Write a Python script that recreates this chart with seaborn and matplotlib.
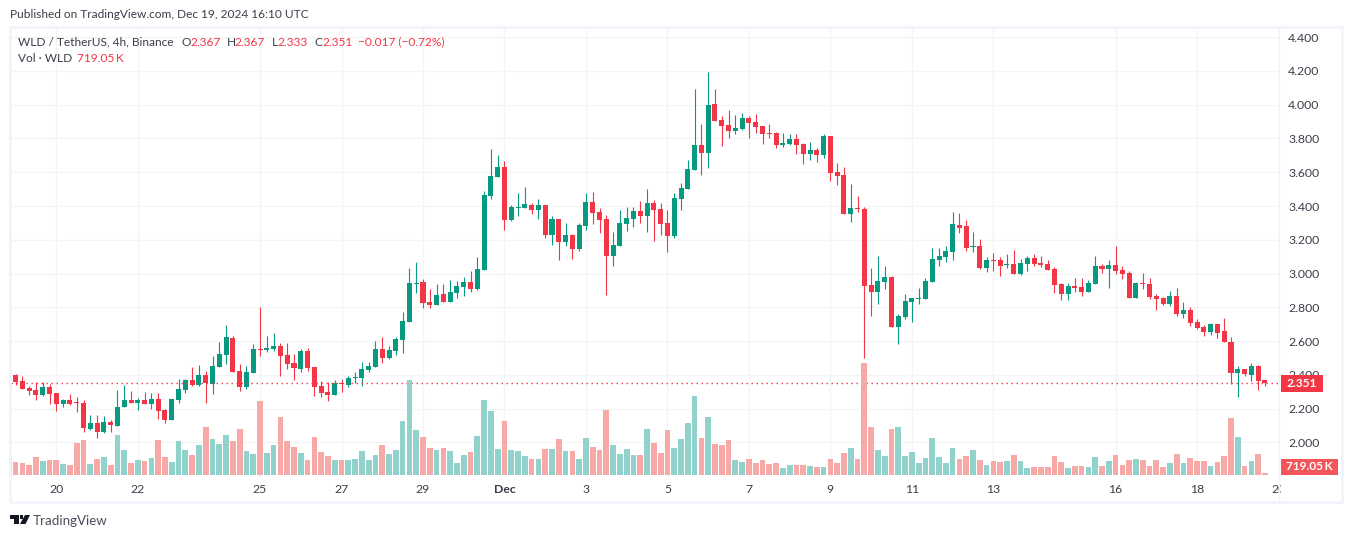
import numpy as np
import pandas as pd
import matplotlib.pyplot as plt
import seaborn as sns
from matplotlib.lines import Line2D
from matplotlib.patches import Polygon, Rectangle
from matplotlib.transforms import Bbox, TransformedBbox

# 4h candles WLD/USDT, first one is cut by the left edge
first_bar = '2024-11-18 20:00'

opens = [2.310,2.398,2.363,2.321,2.309,2.280,2.327,2.292,2.227,2.250,
 2.240,2.233,2.079,2.114,2.061,2.120,2.097,2.209,2.250,2.233,
 2.250,2.227,2.256,2.191,2.132,2.250,2.310,2.368,2.339,2.398,
 2.345,2.445,2.516,2.617,2.422,2.327,2.410,2.552,2.546,2.552,
 2.569,2.516,2.469,2.433,2.540,2.445,2.333,2.298,2.280,2.352,
 2.339,2.382,2.380,2.427,2.445,2.552,2.498,2.540,2.605,2.713,
 2.941,2.950,2.831,2.813,2.879,2.831,2.885,2.920,2.950,2.908,
 3.021,3.459,3.572,3.631,3.317,3.390,3.388,3.406,3.376,3.406,
 3.228,3.323,3.187,3.228,3.145,3.281,3.424,3.364,3.323,3.104,
 3.163,3.293,3.323,3.370,3.341,3.418,3.382,3.299,3.222,3.441,
 3.501,3.613,3.761,3.714,4.004,3.909,3.880,3.844,3.856,3.921,
 3.897,3.874,3.832,3.832,3.761,3.767,3.797,3.767,3.708,3.732,
 3.702,3.814,3.601,3.582,3.351,3.387,3.381,2.931,2.889,2.949,
 2.978,2.682,2.741,2.830,2.850,2.848,2.949,3.079,3.097,3.126,
 3.286,3.280,3.158,3.162,3.032,3.079,3.079,3.051,3.055,2.996,
 3.055,3.091,3.061,3.055,3.026,2.937,2.878,2.925,2.919,2.889,
 2.937,3.043,3.026,3.049,3.020,3.002,2.854,2.943,2.937,2.866,
 2.854,2.818,2.866,2.759,2.783,2.712,2.682,2.653,2.700,2.659,
 2.593,2.410,2.433,2.398,2.451,2.367]

highs = [2.398,2.404,2.392,2.335,2.357,2.357,2.349,2.292,2.256,2.286,
 2.268,2.250,2.161,2.161,2.155,2.132,2.310,2.339,2.303,2.262,
 2.298,2.292,2.292,2.197,2.256,2.374,2.374,2.445,2.457,2.422,
 2.510,2.593,2.694,2.629,2.463,2.451,2.581,2.800,2.629,2.646,
 2.587,2.587,2.522,2.552,2.558,2.445,2.363,2.357,2.368,2.374,
 2.392,2.416,2.475,2.475,2.599,2.623,2.569,2.623,2.770,3.033,
 3.069,2.968,2.908,2.938,2.938,2.962,2.956,2.979,3.015,3.098,
 3.489,3.737,3.702,3.666,3.406,3.477,3.512,3.418,3.441,3.406,
 3.341,3.323,3.299,3.234,3.299,3.477,3.483,3.388,3.347,3.246,
 3.376,3.394,3.394,3.430,3.501,3.435,3.418,3.376,3.477,3.536,
 3.672,4.093,3.886,4.194,4.093,3.933,3.969,3.939,3.951,3.933,
 3.945,3.874,3.886,3.838,3.832,3.826,3.826,3.773,3.779,3.743,
 3.826,3.814,3.655,3.630,3.529,3.458,3.393,3.032,3.103,3.043,
 2.984,2.759,2.878,2.854,2.913,2.972,3.150,3.150,3.162,3.363,
 3.357,3.316,3.245,3.203,3.097,3.120,3.097,3.114,3.138,3.085,
 3.103,3.114,3.103,3.079,3.038,2.943,2.943,2.972,2.972,2.961,
 3.103,3.055,3.079,3.162,3.043,3.014,2.949,3.002,2.972,2.878,
 2.860,2.895,2.913,2.830,2.801,2.730,2.694,2.706,2.700,2.735,
 2.623,2.451,2.433,2.469,2.457,2.367]

lows = [2.310,2.339,2.315,2.280,2.250,2.274,2.227,2.185,2.209,2.221,
 2.180,2.061,2.073,2.026,2.055,2.061,2.097,2.209,2.233,2.191,
 2.227,2.197,2.138,2.114,2.132,2.233,2.292,2.333,2.333,2.233,
 2.286,2.445,2.463,2.416,2.303,2.315,2.410,2.510,2.534,2.540,
 2.392,2.433,2.368,2.416,2.422,2.274,2.268,2.244,2.280,2.298,
 2.327,2.351,2.333,2.416,2.445,2.469,2.492,2.516,2.530,2.713,
 2.885,2.796,2.796,2.813,2.831,2.831,2.855,2.867,2.891,2.902,
 3.021,3.441,3.572,3.258,3.311,3.341,3.388,3.353,3.323,3.210,
 3.169,3.080,3.163,3.086,3.133,3.258,3.293,3.240,2.873,3.045,
 3.163,3.252,3.276,3.299,3.246,3.193,3.228,3.128,3.210,3.376,
 3.501,3.613,3.584,3.625,3.903,3.755,3.803,3.826,3.850,3.803,
 3.832,3.767,3.803,3.743,3.749,3.761,3.708,3.649,3.672,3.661,
 3.684,3.548,3.524,3.351,3.304,3.363,2.499,2.747,2.818,2.907,
 2.682,2.582,2.730,2.712,2.818,2.848,2.949,3.043,3.067,3.079,
 3.239,3.132,3.126,3.026,3.008,3.014,2.984,3.032,2.996,2.990,
 3.014,3.043,3.038,3.020,2.884,2.842,2.842,2.889,2.866,2.889,
 2.937,3.002,2.913,2.996,2.966,2.854,2.854,2.907,2.848,2.783,
 2.812,2.807,2.747,2.735,2.688,2.670,2.629,2.635,2.617,2.593,
 2.345,2.268,2.392,2.362,2.309,2.333]

closes = [2.398,2.359,2.315,2.303,2.280,2.327,2.286,2.227,2.250,2.227,
 2.236,2.085,2.114,2.061,2.120,2.103,2.209,2.250,2.233,2.250,
 2.227,2.256,2.185,2.132,2.256,2.315,2.368,2.339,2.398,2.351,
 2.451,2.522,2.623,2.416,2.327,2.416,2.552,2.546,2.558,2.569,
 2.510,2.463,2.440,2.540,2.440,2.327,2.292,2.280,2.351,2.349,
 2.380,2.386,2.433,2.451,2.552,2.498,2.546,2.611,2.717,2.944,
 2.946,2.825,2.813,2.873,2.831,2.890,2.926,2.950,2.908,3.027,
 3.465,3.578,3.631,3.317,3.394,3.394,3.412,3.376,3.406,3.228,
 3.323,3.187,3.228,3.145,3.287,3.424,3.358,3.317,3.104,3.169,
 3.299,3.329,3.370,3.341,3.418,3.376,3.293,3.222,3.447,3.507,
 3.619,3.761,3.714,3.998,3.903,3.874,3.844,3.862,3.921,3.892,
 3.868,3.826,3.828,3.761,3.773,3.797,3.761,3.708,3.732,3.702,
 3.814,3.595,3.578,3.351,3.387,3.383,2.925,2.889,2.955,2.978,
 2.682,2.747,2.836,2.854,2.854,2.955,3.085,3.103,3.132,3.292,
 3.268,3.150,3.162,3.032,3.079,3.075,3.043,3.055,2.996,3.061,
 3.091,3.055,3.049,3.020,2.931,2.878,2.925,2.913,2.889,2.943,
 3.043,3.026,3.049,3.014,2.996,2.854,2.943,2.939,2.860,2.848,
 2.818,2.866,2.759,2.783,2.706,2.676,2.653,2.700,2.647,2.593,
 2.410,2.433,2.404,2.451,2.362,2.351]

# volume in millions of WLD
volumes = [6.12,4.68,4.32,3.60,6.48,5.04,5.40,5.40,3.96,3.60,
 11.52,12.60,3.96,5.76,6.48,3.60,14.40,9.00,4.32,5.40,
 5.04,6.12,12.60,6.48,4.68,12.24,9.00,7.20,10.80,17.28,
 12.96,11.16,14.40,12.24,16.56,8.64,7.56,26.64,7.92,10.80,
 20.88,12.24,10.08,7.92,5.40,13.68,8.28,6.84,5.40,5.40,
 5.40,5.76,8.64,5.40,7.20,10.80,7.56,9.00,19.44,34.20,
 16.20,13.68,9.72,9.00,9.72,8.64,4.32,7.20,8.28,14.04,
 27.00,23.04,9.36,19.44,9.00,8.64,6.84,5.76,5.76,9.36,
 9.36,12.96,8.64,8.64,5.76,13.32,10.08,9.00,23.40,10.80,
 7.56,9.36,7.20,7.20,16.56,11.52,7.92,16.20,9.72,12.96,
 18.72,28.44,13.32,20.88,11.16,10.80,12.60,5.40,4.68,5.76,
 4.32,5.40,3.96,4.32,2.52,3.60,3.60,3.60,3.24,2.88,
 2.88,5.76,4.32,7.92,9.72,5.76,40.32,17.28,9.00,6.84,
 16.56,17.28,6.84,8.28,4.32,6.12,13.32,6.48,4.32,9.72,
 5.76,6.84,9.00,5.40,3.60,5.04,4.68,5.04,7.20,5.04,
 2.52,2.88,2.88,2.88,6.84,4.68,2.52,3.24,3.24,2.88,
 6.48,3.24,5.04,7.20,3.60,5.40,5.76,5.40,3.24,5.40,
 2.88,4.32,7.56,4.32,6.12,5.04,5.04,3.24,4.68,6.84,
 20.52,13.68,3.24,5.04,7.56,0.72]

tick_dates = ['2024-11-20','2024-11-22','2024-11-25','2024-11-27','2024-11-29','2024-12-01',
              '2024-12-03','2024-12-05','2024-12-07','2024-12-09','2024-12-11','2024-12-13',
              '2024-12-16','2024-12-18','2024-12-20']
tick_labels = ['20','22','25','27','29','Dec','3','5','7','9','11','13','16','18','20']
price_ticks = [2.0,2.2,2.4,2.6,2.8,3.0,3.2,3.4,3.6,3.8,4.0,4.2,4.4]
last_price = 2.351

UP = '#089981'
DOWN = '#F23645'
VOL_UP = '#92D2CC'
VOL_DOWN = '#F7A9A7'
GRID = '#F3F4F6'
FRAME = '#F0F3FA'
TEXT = '#3A3E4A'

W, H = 1352, 538
FS = 8.6

sns.set_theme(style='white')
plt.rcParams['font.family'] = ['Lato', 'DejaVu Sans']

def fx(x):
    return x / W

def fy(y):
    return 1 - y / H

df = pd.DataFrame({'open': opens, 'high': highs, 'low': lows, 'close': closes, 'volume': volumes})
df['pos'] = np.arange(len(df))
df['direction'] = np.where(df['close'] >= df['open'], 'up', 'down')
start = pd.Timestamp(first_bar)
tick_pos = [(pd.Timestamp(d) - start) / pd.Timedelta(hours=4) for d in tick_dates]

fig = plt.figure(figsize=(W / 100, H / 100), dpi=100, facecolor='white')
left, right, top, bottom = 10.5, 1279, 28, 477
ax = fig.add_axes([fx(left), fy(bottom), fx(right - left), (bottom - top) / H])
ax.set_facecolor('white')

# Gitter und Kerzen
ax.set_axisbelow(True)
ax.grid(True, color=GRID, linewidth=0.9)
colors = df['direction'].map({'up': UP, 'down': DOWN})
wicks = ax.vlines(df['pos'], df['low'], df['high'], colors=colors, linewidth=0.8, zorder=2)
wicks.set_snap(True)
ax.bar(df['pos'], (df['close'] - df['open']).abs().clip(lower=0.004), bottom=df[['open', 'close']].min(axis=1),
       width=0.74, color=colors, linewidth=0, zorder=3)
ax.axhline(last_price, color=DOWN, linewidth=1, linestyle=(0, (1, 2.6)), zorder=4)

# Volumen als Overlay unten
ax_vol = ax.twinx()
ax_vol.patch.set_visible(False)
sns.barplot(data=df, x='pos', y='volume', hue='direction', palette={'up': VOL_UP, 'down': VOL_DOWN},
            native_scale=True, dodge=False, width=0.84, saturation=1, legend=False,
            errorbar=None, linewidth=0, ax=ax_vol)
ax_vol.set_ylim(-2 * 0.36, (475 - top) * 0.36)
ax_vol.set_xlabel('')
ax_vol.set_ylabel('')
ax_vol.yaxis.set_visible(False)
ax_vol.xaxis.set_visible(False)
for side in ax_vol.spines:
    ax_vol.spines[side].set_visible(False)

ax.set_xlim((left - 8.81) / 6.79, (right - 8.81) / 6.79)
ax.set_ylim(2.2 + (408.7 - bottom) / 168.9, 2.2 + (408.7 - top) / 168.9)
ax.set_xticks(tick_pos, tick_labels)
ax.set_yticks(price_ticks, [f'{p:.3f}' for p in price_ticks])
ax.yaxis.tick_right()
ax.tick_params(axis='both', length=0, labelsize=8.8, labelcolor=TEXT)
ax.tick_params(axis='y', pad=6.5)
ax.tick_params(axis='x', pad=5)
ax.set_xlabel('')
for side in ax.spines:
    ax.spines[side].set_visible(False)

clip = TransformedBbox(Bbox([[0, 0], [fx(1281), 1]]), fig.transFigure)
for lab in ax.get_xticklabels():
    lab.set_clip_box(clip)
    lab.set_clip_on(True)
    if lab.get_text() == 'Dec':
        lab.set_fontweight('bold')

# Rahmen
fig.add_artist(Rectangle((fx(10), fy(502)), fx(1342 - 10), (502 - 27) / H, transform=fig.transFigure,
                         fill=False, edgecolor=FRAME, linewidth=1.8, zorder=8))
fig.add_artist(Line2D([fx(1279), fx(1279)], [fy(28), fy(502)], color=FRAME, linewidth=1, zorder=8))

# Kopfzeilen
fig.text(fx(10), fy(15), 'Published on TradingView.com, Dec 19, 2024 16:10 UTC', fontsize=FS, color=TEXT, va='center')

header = [(18, 'WLD / TetherUS, 4h, Binance', TEXT), (182, 'O', TEXT), (190, '2.367', DOWN), (227, 'H', TEXT),
          (234, '2.367', DOWN), (272, 'L', TEXT), (277, '2.333', DOWN), (314, 'C', TEXT), (322, '2.351', DOWN),
          (358, '\u22120.017 (\u22120.72%)', DOWN)]
for x, s, c in header:
    fig.text(fx(x), fy(42), s, fontsize=FS, color=c, va='center')
fig.text(fx(18), fy(59), 'Vol \u00b7 WLD', fontsize=FS, color=TEXT, va='center')
fig.text(fx(77), fy(59), '719.05\u2009K', fontsize=FS, color=DOWN, va='center')

# Preis- und Volumen-Badges
fig.add_artist(Rectangle((fx(1281), fy(392)), fx(42), 17 / H, transform=fig.transFigure, color=DOWN, linewidth=0, zorder=9))
fig.text(fx(1302), fy(383.5), f'{last_price:.3f}', fontsize=FS, color='white', ha='center', va='center',
         fontweight='bold', zorder=10)
fig.add_artist(Rectangle((fx(1281), fy(475)), fx(57), 16 / H, transform=fig.transFigure, color='#F2555A', linewidth=0, zorder=9))
fig.text(fx(1309.5), fy(467), '719.05\u2009K', fontsize=FS, color='white', ha='center', va='center',
         fontweight='bold', zorder=10)

# TradingView Logo
LOGO = '#131722'
fig.add_artist(Polygon([(fx(10), fy(515)), (fx(19), fy(515)), (fx(19), fy(524)), (fx(14), fy(524)),
                        (fx(14), fy(518.5)), (fx(10), fy(518.5))], transform=fig.transFigure, color=LOGO, linewidth=0))
fig.add_artist(Polygon([(fx(25), fy(515)), (fx(30), fy(515)), (fx(25.5), fy(524)), (fx(20), fy(524))],
                       transform=fig.transFigure, color=LOGO, linewidth=0))
fig.add_artist(Rectangle((fx(20), fy(518.5)), fx(3.4), 3.4 / H, transform=fig.transFigure, color=LOGO, linewidth=0))
fig.text(fx(33), fy(521), 'TradingView', fontsize=9.6, color='#4A4E5A', va='center')

fig.savefig('out.png', dpi=100)
